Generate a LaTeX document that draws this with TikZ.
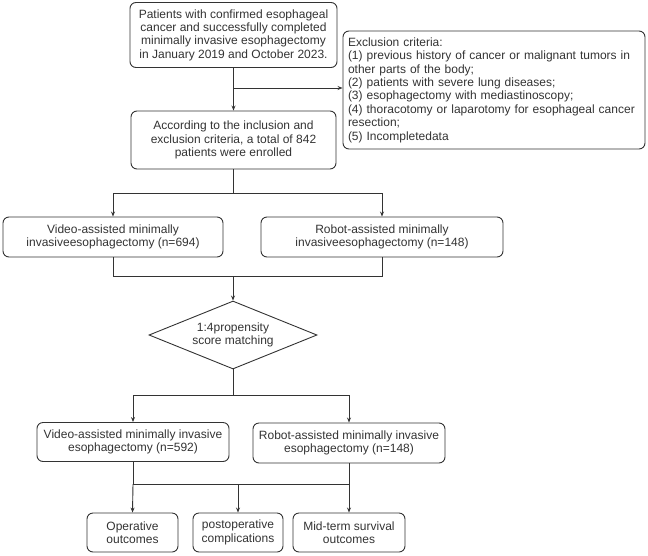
\documentclass[tikz,border=0pt]{standalone}
\usepackage{fontspec}
\setmainfont{Liberation Sans}
\usetikzlibrary{shapes.geometric,arrows.meta}
\definecolor{ink}{HTML}{333333}
\tikzset{
  box/.style={draw=ink, line width=0.9pt, rounded corners=6pt, align=center, inner sep=0pt,
    font=\fontsize{12}{13.4}\selectfont, text=ink},
  dec/.style={draw=ink, line width=0.9pt, diamond, aspect=2.47, inner sep=0pt, align=center,
    font=\fontsize{12}{13.4}\selectfont, text=ink, minimum width=168pt, minimum height=68pt},
  conn/.style={draw=ink, line width=0.9pt},
  arr/.style={conn, -{Stealth[length=5pt,width=4pt]}}
}
\begin{document}
\begin{tikzpicture}[x=1pt,y=1pt]
\useasboundingbox (0,0) rectangle (648,-555);
\node[box, minimum width=207pt, minimum height=65pt] (b1) at (233.5,-35)
  {Patients with confirmed esophageal\\cancer and successfully completed\\minimally invasive esophagectomy\\in January 2019 and October 2023.};
\node[box, minimum width=205pt, minimum height=58pt] (b2) at (233.5,-140)
  {According to the inclusion and\\exclusion criteria, a total of 842\\patients were enrolled};
\node[box, minimum width=302pt, minimum height=118pt, align=left, text width=292pt] (ex) at (494,-90)
  {\hyphenpenalty=10000 Exclusion criteria:\\(1) previous history of cancer or malignant tumors in\\other parts of the body;\\(2) patients with severe lung diseases;\\(3) esophagectomy with mediastinoscopy;\\(4) thoracotomy or laparotomy for esophageal cancer\\resection;\\(5) Incompletedata};
\node[box, minimum width=220pt, minimum height=40pt] (v1) at (113,-237)
  {Video-assisted minimally\\invasiveesophagectomy (n=694)};
\node[box, minimum width=242pt, minimum height=40pt] (r1) at (382,-237)
  {Robot-assisted minimally\\invasiveesophagectomy (n=148)};
\node[dec] (d) at (233,-335) {1:4propensity\\score matching};
\node[box, minimum width=192pt, minimum height=39pt] (v2) at (133,-442)
  {Video-assisted minimally invasive\\esophagectomy (n=592)};
\node[box, minimum width=192pt, minimum height=40pt] (r2) at (349,-443)
  {Robot-assisted minimally invasive\\esophagectomy (n=148)};
\node[box, minimum width=91pt, minimum height=39pt] (o1) at (132.5,-532.5)
  {Operative\\outcomes};
\node[box, minimum width=90pt, minimum height=39pt] (o2) at (238,-532.5)
  {postoperative\\complications};
\node[box, minimum width=112pt, minimum height=39pt] (o3) at (349,-532.5)
  {Mid-term survival\\outcomes};
% connectors
\coordinate (j1) at (233.5,-88);
\draw[arr] (b1.south) -- (b2.north);
\draw[arr] (j1) -- (j1 -| ex.west);
\coordinate (j2) at (233.5,-193);
\draw[conn] (b2.south) -- (j2);
\draw[arr] (j2) -| (v1.north);
\draw[arr] (j2) -| (r1.north);
\coordinate (j3) at (233,-276);
\draw[conn] (v1.south) |- (j3);
\draw[conn] (r1.south) |- (j3);
\draw[arr] (j3) -- (d.north);
\coordinate (j4) at (233,-395);
\draw[conn] (d.south) -- (j4);
\draw[arr] (j4) -| (v2.north);
\draw[arr] (j4) -| (r2.north);
\coordinate (j5) at (238,-484);
\draw[conn] (v2.south) |- (j5);
\draw[conn] (r2.south) |- (j5);
\draw[arr] (v2.south |- j5) -- (o1.north);
\draw[arr] (j5) -- (o2.north);
\draw[arr] (r2.south |- j5) -- (o3.north);
\end{tikzpicture}
\end{document}
